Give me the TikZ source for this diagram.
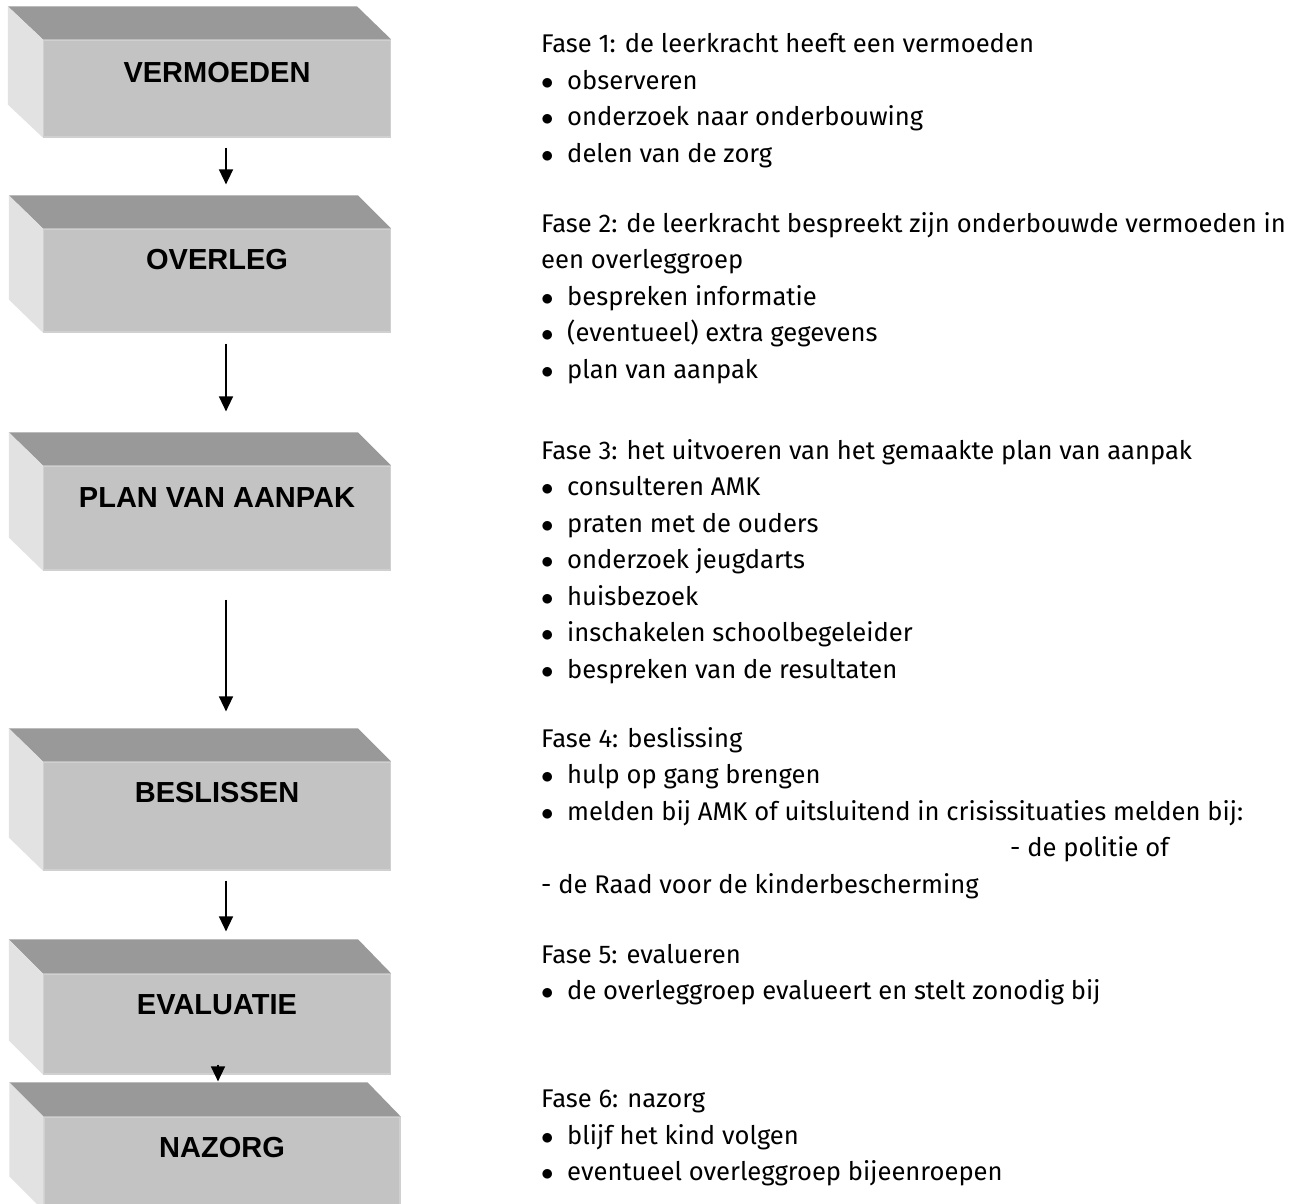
\documentclass[tikz,border=0pt]{standalone}
\usepackage{fontspec}
\setmainfont{Fira Sans}
\newfontfamily\kopfont{Liberation Sans}
\usetikzlibrary{arrows.meta}

\definecolor{topgray}{HTML}{999999}
\definecolor{sidegray}{HTML}{E2E2E2}
\definecolor{frontgray}{HTML}{C3C3C3}
\definecolor{edgegray}{HTML}{D0D0D0}

\newcommand{\bul}{\makebox[26pt][l]{$\bullet$}}

\begin{document}
\begin{tikzpicture}[x=1pt,y=-1pt,
  front/.style={fill=frontgray,draw=edgegray,line width=1.2pt,minimum width=347pt,inner sep=0pt},
  top face/.style={fill=topgray},
  side face/.style={fill=sidegray},
  kop/.style={font=\kopfont\bfseries\fontsize{29}{31}\selectfont,inner sep=0pt},
  fase/.style={font=\fontsize{25.6}{36.5}\selectfont,align=left,anchor=north west,inner sep=0pt},
  flow/.style={-{Triangle[width=14pt,length=15pt]},line width=1.5pt}]
  \useasboundingbox[fill=white] (0,0) rectangle (1309,1204);

  % fase boxes (front faces)
  \node[front,minimum height=97pt] (vermoeden) at (217,88.5) {};
  \node[front,minimum height=103pt] (overleg) at (217,280.5) {};
  \node[front,minimum height=104pt] (plan) at (217,518) {};
  \node[front,minimum height=108pt] (beslissen) at (217,816) {};
  \node[front,minimum height=100pt] (evaluatie) at (217,1024) {};
  \node[front,minimum height=93pt,minimum width=356pt] (nazorg) at (222,1163.5) {};

  % top and side faces
  \fill[top face] (vermoeden.north west) -- ++(-35,-33) -- ([shift={(-34,-33)}]vermoeden.north east) -- (vermoeden.north east) -- cycle;
  \fill[side face] (vermoeden.north west) -- ++(-35,-33) -- ([shift={(-35,-33)}]vermoeden.south west) -- (vermoeden.south west) -- cycle;
  \fill[top face] (overleg.north west) -- ++(-34,-33) -- ([shift={(-33,-33)}]overleg.north east) -- (overleg.north east) -- cycle;
  \fill[side face] (overleg.north west) -- ++(-34,-33) -- ([shift={(-34,-33)}]overleg.south west) -- (overleg.south west) -- cycle;
  \fill[top face] (plan.north west) -- ++(-34,-33) -- ([shift={(-33,-33)}]plan.north east) -- (plan.north east) -- cycle;
  \fill[side face] (plan.north west) -- ++(-34,-33) -- ([shift={(-34,-33)}]plan.south west) -- (plan.south west) -- cycle;
  \fill[top face] (beslissen.north west) -- ++(-34,-33) -- ([shift={(-33,-33)}]beslissen.north east) -- (beslissen.north east) -- cycle;
  \fill[side face] (beslissen.north west) -- ++(-34,-33) -- ([shift={(-34,-33)}]beslissen.south west) -- (beslissen.south west) -- cycle;
  \fill[top face] (evaluatie.north west) -- ++(-34,-34) -- ([shift={(-33,-34)}]evaluatie.north east) -- (evaluatie.north east) -- cycle;
  \fill[side face] (evaluatie.north west) -- ++(-34,-34) -- ([shift={(-34,-34)}]evaluatie.south west) -- (evaluatie.south west) -- cycle;
  \fill[top face] (nazorg.north west) -- ++(-34,-34) -- ([shift={(-33,-34)}]nazorg.north east) -- (nazorg.north east) -- cycle;
  \fill[side face] (nazorg.north west) -- ++(-34,-34) -- ([shift={(-34,-34)}]nazorg.south west) -- (nazorg.south west) -- cycle;

  % box labels
  \node[kop] (t1) at ([yshift=-33pt]vermoeden.north) {VERMOEDEN};
  \node[kop] (t2) at ([yshift=-31pt]overleg.north) {OVERLEG};
  \node[kop] (t3) at ([yshift=-32pt]plan.north) {PLAN VAN AANPAK};
  \node[kop] (t4) at ([yshift=-31pt]beslissen.north) {BESLISSEN};
  \node[kop] (t5) at ([yshift=-31pt]evaluatie.north) {EVALUATIE};
  \node[kop] (t6) at ([yshift=-31pt]nazorg.north) {NAZORG};

  % arrows
  \draw[flow] ([xshift=9pt,yshift=-10pt]vermoeden.south) -- ([xshift=9pt,yshift=44pt]overleg.north);
  \draw[flow] ([xshift=9pt,yshift=-11pt]overleg.south) -- ([xshift=9pt,yshift=54pt]plan.north);
  \draw[flow] ([xshift=9pt,yshift=-29pt]plan.south) -- ([xshift=9pt,yshift=50pt]beslissen.north);
  \draw[flow] ([xshift=9pt,yshift=-10pt]beslissen.south) -- ([xshift=9pt,yshift=42pt]evaluatie.north);
  \draw[flow] ([xshift=1pt,yshift=10pt]evaluatie.south) -- ([xshift=-4pt,yshift=35pt]nazorg.north);

  % fase descriptions
  \node[fase] (fase1) at (541,33.5) {Fase 1: de leerkracht heeft een vermoeden\\
    \bul observeren\\ \bul onderzoek naar onderbouwing\\ \bul delen van de zorg};
  \node[fase] (fase2) at (541,212) {Fase 2: de leerkracht bespreekt zijn onderbouwde vermoeden in\\
    een overleggroep\\ \bul bespreken informatie\\ \bul (eventueel) extra gegevens\\ \bul plan van aanpak};
  \node[fase] (fase3) at (541,439) {Fase 3: het uitvoeren van het gemaakte plan van aanpak\\
    \bul consulteren AMK\\ \bul praten met de ouders\\ \bul onderzoek jeugdarts\\ \bul huisbezoek\\
    \bul inschakelen schoolbegeleider\\ \bul bespreken van de resultaten};
  \node[fase] (fase4) at (541,727) {Fase 4: beslissing\\
    \bul hulp op gang brengen\\ \bul melden bij AMK of uitsluitend in crisissituaties melden bij:\\
    \hspace*{469pt}- de politie of\\ - de Raad voor de kinderbescherming};
  \node[fase] (fase5) at (541,944) {Fase 5: evalueren\\
    \bul de overleggroep evalueert en stelt zonodig bij};
  \node[fase] (fase6) at (541,1090) {Fase 6: nazorg\\
    \bul blijf het kind volgen\\ \bul eventueel overleggroep bijeenroepen};
\end{tikzpicture}
\end{document}
